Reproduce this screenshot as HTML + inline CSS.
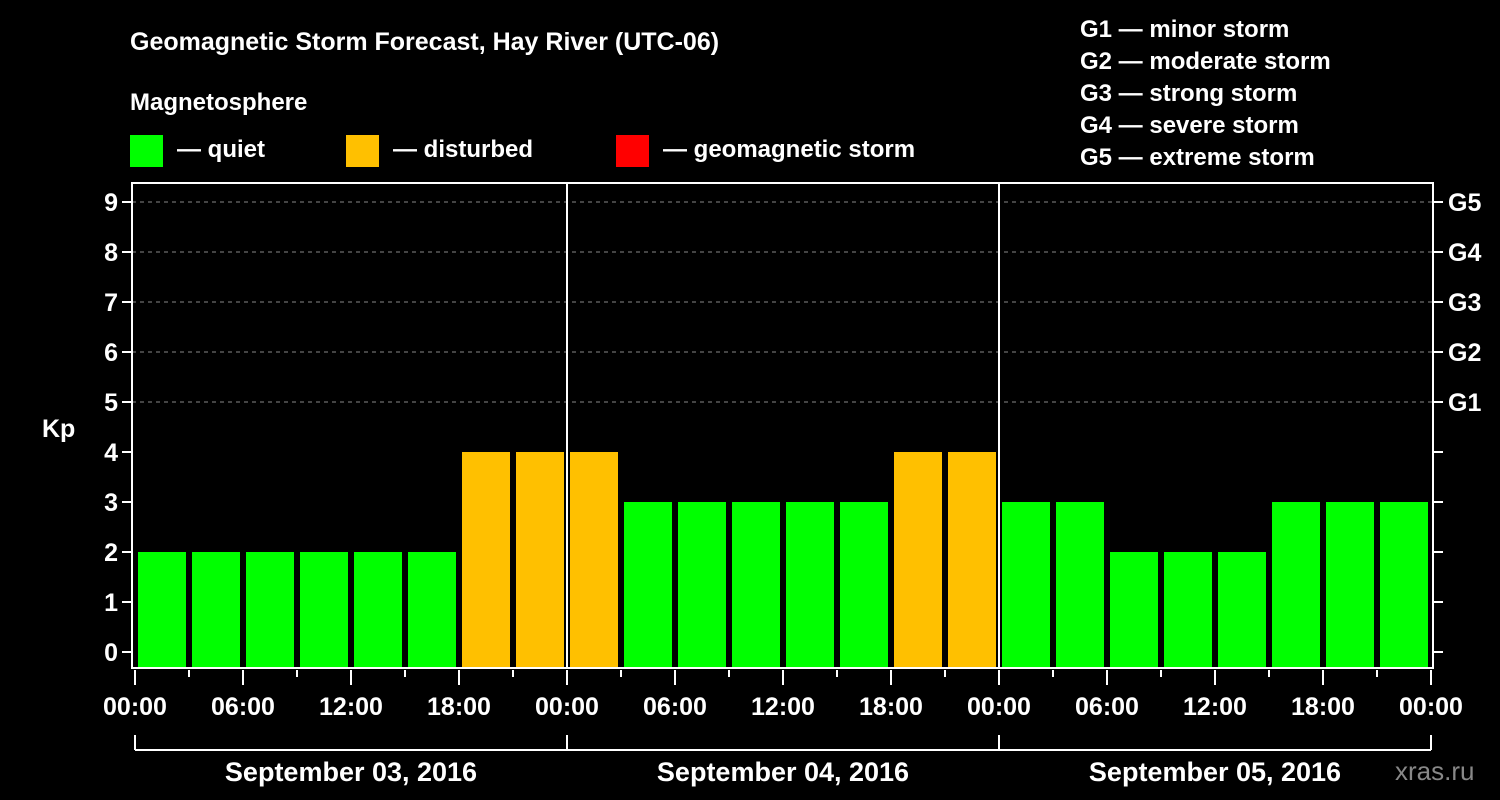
<!DOCTYPE html>
<html><head><meta charset="utf-8"><style>
html,body{margin:0;padding:0;background:#000;}
svg{display:block;font-family:"Liberation Sans",Arial,sans-serif;font-weight:bold;}
</style></head><body>
<svg id="chart" width="1500" height="800" viewBox="0 0 1500 800">
<rect width="1500" height="800" fill="#000"/>
<text x="130" y="50" fill="#fff" font-size="25">Geomagnetic Storm Forecast, Hay River (UTC-06)</text>
<text x="130" y="110" fill="#fff" font-size="24">Magnetosphere</text>
<g>
<rect x="130" y="135" width="33" height="32" fill="#00ff00"/>
<text x="177" y="157" fill="#fff" font-size="24">— quiet</text>
<rect x="346" y="135" width="33" height="32" fill="#ffc000"/>
<text x="393" y="157" fill="#fff" font-size="24">— disturbed</text>
<rect x="616" y="135" width="33" height="32" fill="#ff0000"/>
<text x="663" y="157" fill="#fff" font-size="24">— geomagnetic storm</text>
</g>
<g fill="#fff" font-size="24">
<text x="1080" y="37">G1 — minor storm</text>
<text x="1080" y="69">G2 — moderate storm</text>
<text x="1080" y="101">G3 — strong storm</text>
<text x="1080" y="133">G4 — severe storm</text>
<text x="1080" y="165">G5 — extreme storm</text>
</g>
<g id="grid"></g>
<g id="bars"></g>
<g id="axes"></g>
<text x="42" y="437" fill="#fff" font-size="25">Kp</text>
<text x="1395" y="780" fill="#888" font-size="26" font-weight="normal">xras.ru</text>
</svg>
<script>
const kpValues=[2,2,2,2,2,2,4,4, 4,3,3,3,3,3,4,4, 3,3,2,2,2,3,3,3];
const yTicks=[0,1,2,3,4,5,6,7,8,9];
const gLabels=["G1","G2","G3","G4","G5"];
const gLevels=[5,6,7,8,9];
const xTickLabels=["00:00","06:00","12:00","18:00","00:00","06:00","12:00","18:00","00:00","06:00","12:00","18:00","00:00"];
const dayLabels=["September 03, 2016","September 04, 2016","September 05, 2016"];

const NS="http://www.w3.org/2000/svg";
const L=132,R=1433,T=183,B=668,X0=135,STEP=54;
const y=v=>652-v*50;
const x=i=>X0+i*STEP;
function mk(tag,attrs,parent,txt){const e=document.createElementNS(NS,tag);for(const k in attrs)e.setAttribute(k,attrs[k]);if(txt!==undefined)e.textContent=txt;parent.appendChild(e);return e;}
const grid=document.getElementById('grid'),bars=document.getElementById('bars'),axes=document.getElementById('axes');
gLevels.forEach(v=>{const l=mk('line',{x1:L,x2:R,y1:y(v),y2:y(v),stroke:'#888','stroke-dasharray':'4 4','stroke-width':1},grid);

});
kpValues.forEach((v,i)=>{const c=v>=5?'#ff0000':(v>=4?'#ffc000':'#00ff00');
const r=mk('rect',{x:x(i)+3,y:y(v),width:STEP-6,height:B-y(v),fill:c},bars);

});
const fr=mk('rect',{x:L,y:T,width:R-L,height:B-T,fill:'none',stroke:'#fff','stroke-width':2},axes);


[1,2].forEach(d=>{const l=mk('line',{x1:x(d*8),x2:x(d*8),y1:T,y2:B,stroke:'#fff','stroke-width':2},axes);

});
yTicks.forEach(v=>{mk('line',{x1:L-10,x2:L,y1:y(v),y2:y(v),stroke:'#fff','stroke-width':2},axes);
mk('line',{x1:R,x2:R+10,y1:y(v),y2:y(v),stroke:'#fff','stroke-width':2},axes);
const t=mk('text',{x:L-14,y:y(v)+9,fill:'#fff','font-size':25,'text-anchor':'end'},axes,String(v));

});
gLevels.forEach((v,i)=>{const t=mk('text',{x:1448,y:y(v)+9,fill:'#fff','font-size':25},axes,gLabels[i]);

});
for(let i=0;i<=24;i++){const major=i%2==0;
mk('line',{x1:x(i),x2:x(i),y1:B+2,y2:major?B+17:B+9,stroke:'#fff','stroke-width':2},axes);}
xTickLabels.forEach((s,i)=>{const t=mk('text',{x:x(i*2),y:715,fill:'#fff','font-size':25,'text-anchor':'middle'},axes,s);

});
mk('line',{x1:x(0),x2:x(24),y1:750,y2:750,stroke:'#fff','stroke-width':2},axes);
[0,8,16,24].forEach(i=>mk('line',{x1:x(i),x2:x(i),y1:735,y2:750,stroke:'#fff','stroke-width':2},axes));
dayLabels.forEach((s,d)=>{const t=mk('text',{x:x(d*8+4),y:781,fill:'#fff','font-size':27,'text-anchor':'middle'},axes,s);

});
</script>
</body></html>
